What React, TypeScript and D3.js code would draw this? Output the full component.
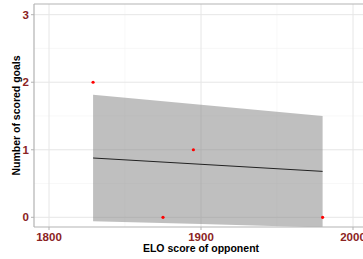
import React from "react";
import * as d3 from "d3";

const pointsX = [1829, 1875, 1895, 1980];
const pointsY = [2, 0, 1, 0];
const smoothX = [1829, 1900, 1980];
const smoothFit = [0.878, 0.785, 0.68];
const smoothLower = [-0.06, -0.1, -0.15];
const smoothUpper = [1.816, 1.667, 1.5];
const xTicks = [1800, 1900, 2000];
const xMinor = [1850, 1950];
const yTicks = [0, 1, 2, 3];
const yMinor = [0.5, 1.5, 2.5];

export default function App() {
  const W = 363, H = 259;
  const left = 34, top = 4, bottom = 227, right = 380;
  const x = d3.scaleLinear().domain([1800, 2000]).range([49, 353]);
  const y = d3.scaleLinear().domain([0, 3]).range([217.3, 14.7]);
  const labColor = "#8B2323";
  const idx = smoothX.map((_, i) => i);
  const area = d3.area<number>()
    .x((i) => x(smoothX[i]))
    .y0((i) => y(smoothLower[i]))
    .y1((i) => y(smoothUpper[i]));
  const line = d3.line<number>()
    .x((i) => x(smoothX[i]))
    .y((i) => y(smoothFit[i]));
  return (
    <svg width={W} height={H} style={{ position: "absolute", left: 0, top: 0 }} fontFamily="Liberation Sans, Arial, sans-serif">
      <defs>
        <clipPath id="panel">
          <rect x={left} y={top} width={right - left} height={bottom - top} />
        </clipPath>
      </defs>
      <rect x={0} y={0} width={W} height={H} fill="white" />
      <g clipPath="url(#panel)">
        {xMinor.map((t) => (
          <line key={"xm" + t} x1={x(t)} x2={x(t)} y1={top} y2={bottom} stroke="#F4F4F4" strokeWidth={0.6} />
        ))}
        {yMinor.map((t) => (
          <line key={"ym" + t} x1={left} x2={right} y1={y(t)} y2={y(t)} stroke="#F4F4F4" strokeWidth={0.6} />
        ))}
        {xTicks.map((t) => (
          <line key={"xg" + t} x1={x(t)} x2={x(t)} y1={top} y2={bottom} stroke="#E6E6E6" strokeWidth={1} />
        ))}
        {yTicks.map((t) => (
          <line key={"yg" + t} x1={left} x2={right} y1={y(t)} y2={y(t)} stroke="#E6E6E6" strokeWidth={1} />
        ))}
        <path d={area(idx) || ""} fill="#7f7f7f" fillOpacity={0.5} />
        <path d={line(idx) || ""} fill="none" stroke="#222" strokeWidth={1} />
        {pointsX.map((px, i) => (
          <circle key={i} cx={x(px)} cy={y(pointsY[i])} r={1.6} fill="#FF0000" />
        ))}
      </g>
      <line x1={left} x2={right} y1={top} y2={top} stroke="#B3B3B3" strokeWidth={1} />
      <line x1={left} x2={left} y1={top} y2={bottom} stroke="#B3B3B3" strokeWidth={1.2} />
      <line x1={left} x2={right} y1={bottom} y2={bottom} stroke="#B3B3B3" strokeWidth={1.2} />
      {xTicks.map((t) => (
        <g key={"xt" + t}>
          <line x1={x(t)} x2={x(t)} y1={bottom} y2={bottom + 3} stroke="#B3B3B3" strokeWidth={1} />
          <text x={x(t)} y={240.5} textAnchor="middle" fontSize={11.5} fontWeight="bold" fill={labColor}>{t}</text>
        </g>
      ))}
      {yTicks.map((t) => (
        <g key={"yt" + t}>
          <line x1={left - 3} x2={left} y1={y(t)} y2={y(t)} stroke="#B3B3B3" strokeWidth={1} />
          <text x={29} y={y(t) + 4} textAnchor="end" fontSize={11.5} fontWeight="bold" fill={labColor}>{t}</text>
        </g>
      ))}
      <text x={201} y={252} textAnchor="middle" fontSize={10.5} fontWeight="bold" fill="#000">ELO score of opponent</text>
      <text transform={`translate(19.5, 115.5) rotate(-90)`} textAnchor="middle" fontSize={10.5} fontWeight="bold" fill="#000">Number of scored goals</text>
    </svg>
  );
}
